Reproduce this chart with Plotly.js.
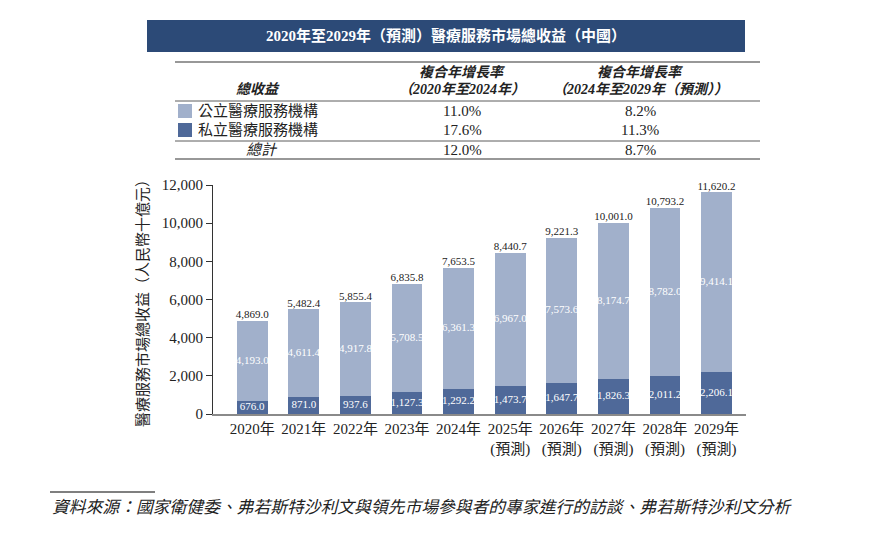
<!DOCTYPE html>
<html>
<head>
<meta charset="utf-8">
<script src="https://cdn.plot.ly/plotly-3.0.1.min.js"></script>
<style>
  html, body { margin: 0; padding: 0; background: #ffffff; }
  #chart { width: 887px; height: 539px; }
</style>
</head>
<body>
<div id="chart"></div>
<script>
// Market revenue, RMB billion
const years = ['2020年', '2021年', '2022年', '2023年', '2024年', '2025年', '2026年', '2027年', '2028年', '2029年'];
const forecastFlags = [false, false, false, false, false, true, true, true, true, true];
const publicRevenue = [4193.0, 4611.4, 4917.8, 5708.5, 6361.3, 6967.0, 7573.6, 8174.7, 8782.0, 9414.1];
const privateRevenue = [676.0, 871.0, 937.6, 1127.3, 1292.2, 1473.7, 1647.7, 1826.3, 2011.2, 2206.1];
const totalRevenue = [4869.0, 5482.4, 5855.4, 6835.8, 7653.5, 8440.7, 9221.3, 10001.0, 10793.2, 11620.2];

// CAGR table
const seriesNames = ['公立醫療服務機構', '私立醫療服務機構', '總計'];
const cagrHistoric = ['11.0%', '17.6%', '12.0%'];
const cagrForecast = ['8.2%', '11.3%', '8.7%'];

const yTicks = [0, 2000, 4000, 6000, 8000, 10000, 12000];

const PUBLIC_COLOR = '#a1b0cb';
const PRIVATE_COLOR = '#4f6999';
const BAR_FONT = 'Liberation Serif, Times New Roman, Noto Sans CJK TC, serif';
const CJK_FONT = 'Liberation Serif, Noto Sans CJK TC, serif';

// page geometry of the plot area, used to place the header and table in paper units
const W = 887, H = 539;
const M = { l: 213, r: 141, t: 185, b: 125 };
const PW = W - M.l - M.r, PH = H - M.t - M.b;
const px = x => (x - M.l) / PW;
const py = y => (H - M.b - y) / PH;

const fmt = v => v.toLocaleString('en-US', { minimumFractionDigits: 1, maximumFractionDigits: 1 });
const tickText = years.map((y, i) => forecastFlags[i] ? y + '<br>(預測)' : y);
const idx = years.map((_, i) => i);

const traces = [
  {
    type: 'bar', x: idx, y: privateRevenue, name: seriesNames[1],
    marker: { color: PRIVATE_COLOR }, width: 0.6, hoverinfo: 'skip'
  },
  {
    type: 'bar', x: idx, y: publicRevenue, name: seriesNames[0],
    marker: { color: PUBLIC_COLOR }, width: 0.6, hoverinfo: 'skip'
  },
  // segment labels, centred in each segment
  {
    type: 'scatter', mode: 'text', x: idx,
    y: privateRevenue.map(v => v / 2),
    text: privateRevenue.map(fmt),
    textfont: { family: BAR_FONT, size: 11, color: '#ffffff' },
    cliponaxis: false, hoverinfo: 'skip'
  },
  {
    type: 'scatter', mode: 'text', x: idx,
    y: publicRevenue.map((v, i) => privateRevenue[i] + v / 2),
    text: publicRevenue.map(fmt),
    textfont: { family: BAR_FONT, size: 11, color: '#ffffff' },
    cliponaxis: false, hoverinfo: 'skip'
  },
  // totals above each bar
  {
    type: 'scatter', mode: 'text', x: idx, y: totalRevenue,
    text: totalRevenue.map(fmt), textposition: 'top center',
    textfont: { family: BAR_FONT, size: 11, color: '#222222' },
    cliponaxis: false, hoverinfo: 'skip'
  }
];

const shapes = [];
const annotations = [];

// header bar
shapes.push({
  type: 'rect', xref: 'paper', yref: 'paper',
  x0: px(147), x1: px(745), y0: py(52), y1: py(20),
  fillcolor: '#2c4a77', line: { width: 0 }
});
annotations.push({
  xref: 'paper', yref: 'paper', x: px(446), y: py(36), showarrow: false,
  text: '<b>2020年至2029年（預測）醫療服務市場總收益（中國）</b>',
  font: { family: CJK_FONT, size: 15, color: '#ffffff' },
  xanchor: 'center', yanchor: 'middle'
});

// table rules
[[62, 1.2], [101, 0.8], [141, 0.8], [159, 1.2]].forEach(([y, w]) => {
  shapes.push({
    type: 'line', xref: 'paper', yref: 'paper',
    x0: px(175), x1: px(760), y0: py(y), y1: py(y),
    line: { color: '#333333', width: w }
  });
});

// table header
const hdr = (x, y, t, extra) => annotations.push(Object.assign({
  xref: 'paper', yref: 'paper', x: px(x), y: py(y), showarrow: false,
  text: t, font: { family: CJK_FONT, size: 14, color: '#222222' },
  xanchor: 'center', yanchor: 'middle'
}, extra || {}));
hdr(258, 89, '<b><i>總收益</i></b>');
hdr(462, 72, '<b><i>複合年增長率</i></b>');
hdr(462, 89, '<b><i>（2020年至2024年）</i></b>');
hdr(640, 72, '<b><i>複合年增長率</i></b>');
hdr(640, 89, '<b><i>（2024年至2029年（預測））</i></b>');

// table body
const rowY = [111, 130, 150];
const swatch = [PUBLIC_COLOR, PRIVATE_COLOR];
swatch.forEach((c, i) => {
  shapes.push({
    type: 'rect', xref: 'paper', yref: 'paper',
    x0: px(178), x1: px(192), y0: py(rowY[i] + 7), y1: py(rowY[i] - 7),
    fillcolor: c, line: { width: 0 }
  });
  hdr(196, rowY[i], seriesNames[i], { xanchor: 'left', font: { family: CJK_FONT, size: 15, color: '#222222' } });
});
hdr(262, rowY[2], '<i>' + seriesNames[2] + '</i>', { font: { family: CJK_FONT, size: 15, color: '#222222' } });
rowY.forEach((y, i) => {
  hdr(462, y, cagrHistoric[i], { font: { family: BAR_FONT, size: 15, color: '#222222' } });
  hdr(640, y, cagrForecast[i], { font: { family: BAR_FONT, size: 15, color: '#222222' } });
});

// y-axis title
annotations.push({
  xref: 'paper', yref: 'paper', x: px(143), y: py(300), showarrow: false,
  text: '醫療服務市場總收益（人民幣十億元）', textangle: -90,
  font: { family: CJK_FONT, size: 15, color: '#222222' },
  xanchor: 'center', yanchor: 'middle'
});

// source note
shapes.push({
  type: 'line', xref: 'paper', yref: 'paper',
  x0: px(50), x1: px(155), y0: py(492), y1: py(492),
  line: { color: '#555555', width: 1.5 }
});
annotations.push({
  xref: 'paper', yref: 'paper', x: px(50), y: py(507), showarrow: false,
  text: '<i>資料來源：國家衛健委、弗若斯特沙利文與領先市場參與者的專家進行的訪談、弗若斯特沙利文分析</i>',
  font: { family: CJK_FONT, size: 16.8, color: '#222222' },
  xanchor: 'left', yanchor: 'middle'
});

const layout = {
  width: W, height: H,
  margin: M,
  paper_bgcolor: '#ffffff', plot_bgcolor: '#ffffff',
  barmode: 'stack', showlegend: false,
  xaxis: {
    range: [-0.76, 9.57], tickmode: 'array', tickvals: idx, ticktext: tickText,
    tickangle: 0, automargin: false,
    showgrid: false, zeroline: false, showline: true, linecolor: '#8a8a8a', linewidth: 2,
    ticks: '', tickfont: { family: CJK_FONT, size: 15, color: '#222222' }, fixedrange: true
  },
  yaxis: {
    range: [0, 12000], tickmode: 'array', tickvals: yTicks, automargin: false,
    ticktext: yTicks.map(v => v.toLocaleString('en-US')),
    showgrid: false, zeroline: false, showline: true, linecolor: '#333333', linewidth: 1,
    ticks: 'outside', ticklen: 6, tickcolor: '#333333',
    tickfont: { family: BAR_FONT, size: 15, color: '#222222' }, fixedrange: true
  },
  shapes: shapes,
  annotations: annotations
};

Plotly.newPlot('chart', traces, layout, { staticPlot: true, displayModeBar: false });
</script>
</body>
</html>
